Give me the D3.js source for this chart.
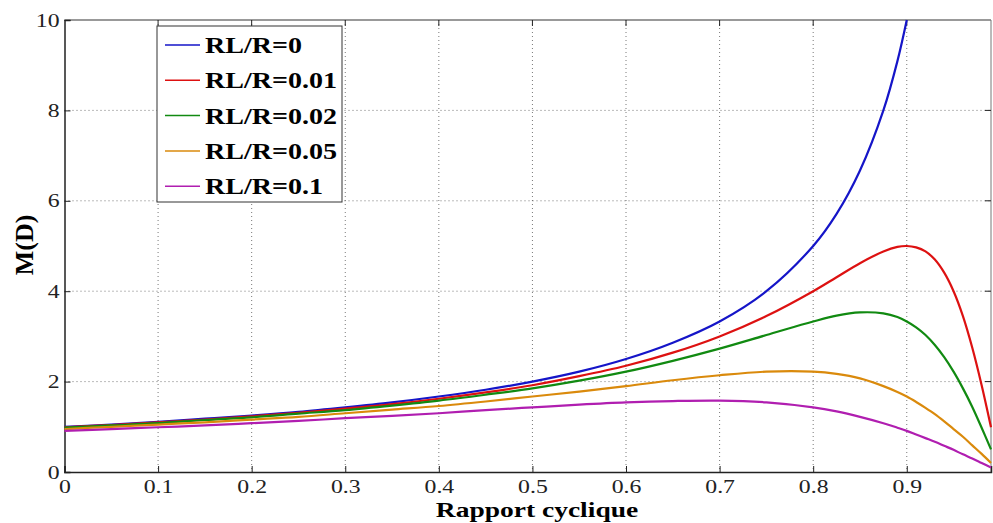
<!DOCTYPE html>
<html>
<head>
<meta charset="utf-8">
<script src="https://cdn.jsdelivr.net/npm/d3@7/dist/d3.min.js"></script>
<style>
  body { margin: 0; background: #fff; }
  svg { display: block; }
  svg text { font-family: "Liberation Serif", "Times New Roman", Times, serif; }
</style>
</head>
<body>
<svg id="chart" width="993" height="523"></svg>
<script>
// rapport cyclique D
let duty = [0, 0.05, 0.1, 0.15, 0.2, 0.25, 0.3, 0.35, 0.4, 0.45, 0.5, 0.55, 0.6, 0.65, 0.7, 0.75, 0.8, 0.825, 0.85, 0.875, 0.89, 0.9, 0.91, 0.92, 0.93, 0.94, 0.95, 0.96, 0.97, 0.98, 0.99];

// M(D)
let m0   = [1.00, 1.05, 1.11, 1.18, 1.25, 1.33, 1.43, 1.54, 1.67, 1.82, 2.00, 2.22, 2.50, 2.86, 3.33, 4.00, 5.00, 5.71, 6.67, 8.00, 9.09, 10.0];
let m001 = [0.99, 1.04, 1.10, 1.16, 1.23, 1.31, 1.40, 1.50, 1.62, 1.76, 1.92, 2.12, 2.35, 2.64, 3.00, 3.45, 4.00, 4.31, 4.62, 4.88, 4.98, 5.00, 4.97, 4.88, 4.70, 4.41, 4.00, 3.45, 2.75, 1.92, 0.99];
let m002 = [0.98, 1.03, 1.08, 1.15, 1.21, 1.29, 1.37, 1.47, 1.58, 1.71, 1.85, 2.02, 2.22, 2.46, 2.73, 3.03, 3.33, 3.46, 3.53, 3.51, 3.43, 3.33, 3.20, 3.03, 2.81, 2.54, 2.22, 1.85, 1.44, 0.98, 0.50];
let m005 = [0.95, 1.00, 1.05, 1.10, 1.16, 1.22, 1.30, 1.38, 1.46, 1.56, 1.67, 1.78, 1.90, 2.03, 2.14, 2.22, 2.22, 2.17, 2.07, 1.90, 1.77, 1.67, 1.55, 1.42, 1.28, 1.12, 0.95, 0.78, 0.59, 0.40, 0.20];
let m01  = [0.91, 0.95, 0.99, 1.03, 1.08, 1.13, 1.19, 1.24, 1.30, 1.37, 1.43, 1.49, 1.54, 1.57, 1.58, 1.54, 1.43, 1.34, 1.22, 1.08, 0.98, 0.91, 0.83, 0.75, 0.67, 0.58, 0.49, 0.39, 0.30, 0.20, 0.10];

let labels = ["RL/R=0", "RL/R=0.01", "RL/R=0.02", "RL/R=0.05", "RL/R=0.1"];
let colors = ["#1515c8", "#dd1111", "#118a11", "#da8a0c", "#b01eb0"];
let xTicks = [0, 0.1, 0.2, 0.3, 0.4, 0.5, 0.6, 0.7, 0.8, 0.9];
let yTicks = [0, 2, 4, 6, 8, 10];

let series = [m0, m001, m002, m005, m01];

/*mise en page*/
let pLeft = 64.5, pRight = 991, pTop = 20, pBottom = 472;
let stretch = 1.25; // l'image d'origine est etiree en largeur

let svg = d3.select("#chart");
let x = d3.scaleLinear().domain([0, 0.99]).range([pLeft, pRight]);
let y = d3.scaleLinear().domain([0, 10]).range([pBottom, pTop]);

// grille pointillee
svg.append("g")
    .selectAll("line")
    .data(xTicks.slice(1))
  .enter().append("line")
    .attr("x1", d => x(d)).attr("x2", d => x(d))
    .attr("y1", pTop).attr("y2", pBottom)
    .attr("stroke", "#555").attr("stroke-width", 0.8)
    .attr("stroke-dasharray", "1,3");
svg.append("g")
    .selectAll("line")
    .data(yTicks.slice(1, -1))
  .enter().append("line")
    .attr("x1", pLeft).attr("x2", pRight)
    .attr("y1", d => y(d)).attr("y2", d => y(d))
    .attr("stroke", "#555").attr("stroke-width", 0.8)
    .attr("stroke-dasharray", "1,3");

// cadre
svg.append("line").attr("x1", pLeft).attr("x2", pRight).attr("y1", pTop).attr("y2", pTop)
    .attr("stroke", "#777").attr("stroke-width", 1.5);
svg.append("line").attr("x1", pRight).attr("x2", pRight).attr("y1", pTop).attr("y2", pBottom)
    .attr("stroke", "#777").attr("stroke-width", 1);

// axes
let xAxis = d3.axisBottom(x).tickValues(xTicks).tickSize(-6).tickPadding(8)
    .tickFormat(d => d === 0 ? "0" : d3.format(".1f")(d));
let gx = svg.append("g").attr("transform", "translate(0," + pBottom + ")").call(xAxis);
let yAxis = d3.axisLeft(y).tickValues(yTicks).tickSize(-6).tickPadding(5);
let gy = svg.append("g").attr("transform", "translate(" + pLeft + ",0)").call(yAxis);

[gx, gy].forEach(function(g) {
    g.attr("font-family", null);
    g.select(".domain").attr("stroke", "#222").attr("stroke-width", 1.5);
    g.selectAll(".tick line").attr("stroke", "#222");
    g.selectAll(".tick text").attr("font-size", 19).attr("fill", "#222");
});
// etirement horizontal des libelles
gx.selectAll(".tick text").attr("transform", "scale(" + stretch + ",1)");
gy.selectAll(".tick text").attr("x", 0).attr("transform", "translate(-5,0) scale(" + stretch + ",1)");
// ticks du haut et de droite
svg.append("g").selectAll("line").data(xTicks.slice(1))
  .enter().append("line")
    .attr("x1", d => x(d)).attr("x2", d => x(d))
    .attr("y1", pTop).attr("y2", pTop + 6).attr("stroke", "#222");
svg.append("g").selectAll("line").data(yTicks.slice(1, -1))
  .enter().append("line")
    .attr("x1", pRight - 6).attr("x2", pRight)
    .attr("y1", d => y(d)).attr("y2", d => y(d)).attr("stroke", "#222");

// courbes
let line = d3.line()
    .x((d, i) => x(duty[i]))
    .y(d => y(d))
    .curve(d3.curveCatmullRom.alpha(0.5));

svg.append("g")
    .selectAll("path")
    .data(series)
  .enter().append("path")
    .attr("d", d => line(d))
    .attr("fill", "none")
    .attr("stroke", (d, i) => colors[i])
    .attr("stroke-width", 2.2);

// titres des axes
svg.append("g").attr("transform", "translate(537,517) scale(" + stretch + ",1)")
  .append("text")
    .attr("text-anchor", "middle")
    .attr("font-weight", "bold").attr("font-size", 22)
    .text("Rapport cyclique");
svg.append("text")
    .attr("transform", "translate(33,245) rotate(-90)")
    .attr("text-anchor", "middle")
    .attr("font-weight", "bold").attr("font-size", 26)
    .text("M(D)");

// legende
let leg = svg.append("g");
leg.append("rect")
    .attr("x", 157).attr("y", 26).attr("width", 185).attr("height", 176)
    .attr("fill", "#fff").attr("stroke", "#333").attr("stroke-width", 1);
labels.forEach(function(lab, i) {
    let ly = 45 + i * 35.3;
    leg.append("line")
        .attr("x1", 165).attr("x2", 200).attr("y1", ly).attr("y2", ly)
        .attr("stroke", colors[i]).attr("stroke-width", 1.5);
    leg.append("g").attr("transform", "translate(205," + (ly + 8) + ") scale(1.22,1)")
      .append("text")
        .attr("font-weight", "bold").attr("font-size", 23)
        .text(lab);
});
</script>
</body>
</html>
